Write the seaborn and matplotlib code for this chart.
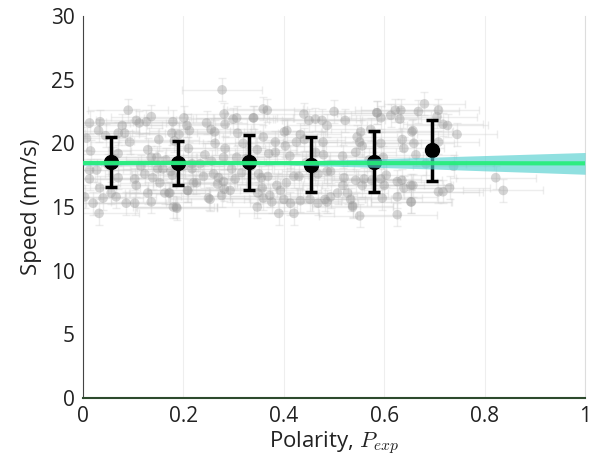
import numpy as np
import pandas as pd
import matplotlib
matplotlib.use("Agg")
import matplotlib.pyplot as plt
import seaborn as sns

polarity = [
    0.090, 0.136, 0.013, 0.034, 0.031, 0.078, 0.106, 0.112, 0.126, 0.070,
    0.083, 0.045, 0.093, 0.151, 0.015, 0.007, 0.129, 0.136, 0.147, 0.165,
    0.070, 0.027, 0.013, 0.123, 0.149, 0.159, 0.103, 0.070, 0.139, 0.013,
    0.153, 0.106, 0.033, 0.056, 0.066, 0.040, 0.003, 0.129, 0.163, 0.086,
    0.103, 0.136, 0.020, 0.032, 0.179, 0.201, 0.207, 0.212, 0.177, 0.173,
    0.208, 0.180, 0.186, 0.246, 0.250, 0.277, 0.191, 0.182, 0.255, 0.262,
    0.281, 0.283, 0.299, 0.306, 0.308, 0.263, 0.283, 0.319, 0.210, 0.243,
    0.306, 0.280, 0.256, 0.217, 0.233, 0.178, 0.175, 0.217, 0.240, 0.260,
    0.270, 0.296, 0.316, 0.220, 0.226, 0.268, 0.280, 0.303, 0.209, 0.171,
    0.281, 0.293, 0.276, 0.253, 0.187, 0.359, 0.367, 0.340, 0.440, 0.450,
    0.463, 0.476, 0.486, 0.359, 0.401, 0.406, 0.433, 0.383, 0.425, 0.441,
    0.478, 0.403, 0.347, 0.370, 0.383, 0.412, 0.463, 0.479, 0.486, 0.350,
    0.368, 0.355, 0.420, 0.430, 0.468, 0.405, 0.386, 0.393, 0.357, 0.348,
    0.372, 0.359, 0.376, 0.400, 0.413, 0.433, 0.452, 0.468, 0.486, 0.347,
    0.390, 0.420, 0.500, 0.522, 0.586, 0.593, 0.613, 0.622, 0.633, 0.631,
    0.655, 0.553, 0.573, 0.546, 0.551, 0.556, 0.543, 0.593, 0.636, 0.639,
    0.517, 0.493, 0.520, 0.543, 0.560, 0.575, 0.593, 0.604, 0.626, 0.635,
    0.653, 0.518, 0.556, 0.600, 0.639, 0.507, 0.527, 0.533, 0.493, 0.537,
    0.596, 0.626, 0.653, 0.551, 0.626, 0.680, 0.668, 0.708, 0.705, 0.717,
    0.726, 0.657, 0.745, 0.708, 0.659, 0.663, 0.683, 0.738, 0.822, 0.837,
    0.657, 0.708, 0.717, 0.730, 0.654, 0.482, 0.537, 0.339, 0.585, 0.598,
    0.050, 0.060, 0.115, 0.190, 0.200, 0.325, 0.335, 0.445, 0.460, 0.570,
]
speed = [
    22.6, 22.1, 21.6, 21.7, 21.0, 21.4, 21.8, 21.6, 21.7, 20.8,
    20.8, 20.6, 20.1, 20.3, 19.4, 20.4, 19.5, 18.9, 18.9, 18.7,
    19.2, 17.9, 17.9, 17.6, 18.0, 18.0, 17.2, 17.3, 17.3, 17.2,
    16.9, 16.7, 16.5, 16.1, 15.8, 15.7, 15.8, 16.1, 16.1, 15.3,
    15.3, 15.4, 15.3, 14.5, 21.7, 22.0, 21.4, 21.0, 20.8, 16.1,
    16.3, 15.0, 15.0, 21.6, 15.7, 24.2, 20.7, 20.2, 21.1, 20.9,
    22.3, 21.5, 21.9, 22.0, 20.8, 20.0, 19.6, 20.0, 19.6, 19.1,
    18.9, 18.9, 18.6, 18.4, 18.4, 17.5, 17.8, 18.0, 17.4, 17.6,
    17.3, 18.0, 17.7, 16.9, 16.9, 16.8, 17.0, 17.2, 16.3, 16.1,
    16.4, 16.3, 15.9, 15.6, 14.9, 22.7, 22.6, 22.0, 22.3, 21.8,
    21.9, 21.8, 21.4, 20.5, 20.9, 21.0, 20.7, 20.1, 20.1, 20.3,
    20.1, 19.8, 19.5, 19.2, 19.3, 19.0, 19.3, 19.1, 17.8, 17.6,
    17.4, 17.3, 17.4, 17.4, 17.6, 16.9, 16.7, 16.3, 16.5, 16.1,
    15.9, 15.7, 15.4, 15.6, 15.3, 15.5, 15.6, 15.3, 15.4, 15.0,
    14.5, 14.5, 22.5, 21.8, 22.4, 22.0, 22.2, 22.6, 22.6, 21.9,
    20.9, 20.9, 21.1, 20.5, 20.1, 19.8, 19.3, 20.0, 20.3, 19.6,
    19.0, 17.8, 17.3, 17.1, 17.2, 17.1, 17.2, 17.5, 17.0, 17.1,
    16.7, 16.7, 16.7, 16.7, 16.5, 16.1, 16.1, 15.6, 15.8, 15.1,
    15.7, 15.8, 15.4, 14.3, 14.4, 23.1, 22.5, 22.6, 22.1, 21.5,
    21.4, 21.0, 20.7, 20.1, 20.0, 19.1, 18.4, 18.2, 17.3, 16.3,
    16.7, 16.2, 16.2, 16.5, 15.4, 15.6, 15.0, 22.0, 22.4, 18.9,
    18.3, 18.8, 18.2, 18.6, 18.2, 18.8, 18.2, 18.5, 18.0, 18.7,
]
POL_ERR = 0.08
SPEED_ERR = 0.9

# binned means
bin_pol = [0.056, 0.189, 0.331, 0.454, 0.580, 0.695]
bin_speed = [18.55, 18.45, 18.5, 18.3, 18.55, 19.45]
bin_err = [1.97, 1.73, 2.16, 2.16, 2.4, 2.4]

# linear fit and its confidence band
fit_pol = [0.0, 0.2, 0.4, 0.55, 0.7, 0.8, 0.9, 1.0]
fit_speed = [18.46, 18.46, 18.45, 18.45, 18.44, 18.44, 18.43, 18.43]
fit_lo = [18.28, 18.33, 18.31, 18.15, 17.98, 17.84, 17.71, 17.57]
fit_hi = [18.64, 18.59, 18.59, 18.75, 18.92, 19.04, 19.16, 19.28]

df = pd.DataFrame({"polarity": polarity, "speed": speed})
fit = pd.DataFrame({"polarity": fit_pol, "speed": fit_speed})

sns.set_style("white")
plt.rcParams['font.family'] = ['Open Sans', 'DejaVu Sans']
plt.rcParams['mathtext.fontset'] = 'cm'

fig = plt.figure(figsize=(5.9, 4.62), dpi=100)
ax = fig.add_axes([0.1407, 0.1385, 0.851, 0.8269])

ax.errorbar(df.polarity, df.speed, xerr=POL_ERR, yerr=SPEED_ERR, fmt='none',
            ecolor='#cccccc', elinewidth=1, capsize=3, alpha=0.35, zorder=1)
sns.scatterplot(data=df, x="polarity", y="speed", ax=ax, color='#939393',
                alpha=0.38, s=48, edgecolor='none', zorder=2)

ax.errorbar(bin_pol, bin_speed, yerr=bin_err, fmt='o', color='black',
            markersize=10, elinewidth=2.5, capsize=4, capthick=2.5, zorder=3)

ax.fill_between(fit_pol, fit_lo, fit_hi, color='#55d0d0', alpha=0.65,
                lw=0, zorder=4)
sns.lineplot(data=fit, x="polarity", y="speed", ax=ax, color='#22ee77',
             lw=3, alpha=0.9, zorder=5)

ax.set_xlim(0, 1)
ax.set_ylim(0, 30)
ax.set_xticks([0, 0.2, 0.4, 0.6, 0.8, 1])
ax.set_xticklabels(['0', '0.2', '0.4', '0.6', '0.8', '1'])
ax.set_yticks([0, 5, 10, 15, 20, 25, 30])
ax.tick_params(direction='in', length=4, labelsize=15, colors='#222222', pad=6)
ax.grid(axis='x', color='#eeeeee', lw=0.8)
ax.set_axisbelow(True)
ax.spines['top'].set_visible(False)
ax.spines['right'].set_color('#dddddd')
ax.spines['left'].set_color('#444444')
ax.spines['bottom'].set_color('#2d4a2d')
ax.spines['bottom'].set_linewidth(1.5)
ax.set_xlabel('Polarity, $P_{exp}$', fontsize=16, labelpad=1, color='#222222')
ax.set_ylabel('Speed (nm/s)', fontsize=16, labelpad=6, color='#222222')

fig.savefig('out.png', dpi=100)
